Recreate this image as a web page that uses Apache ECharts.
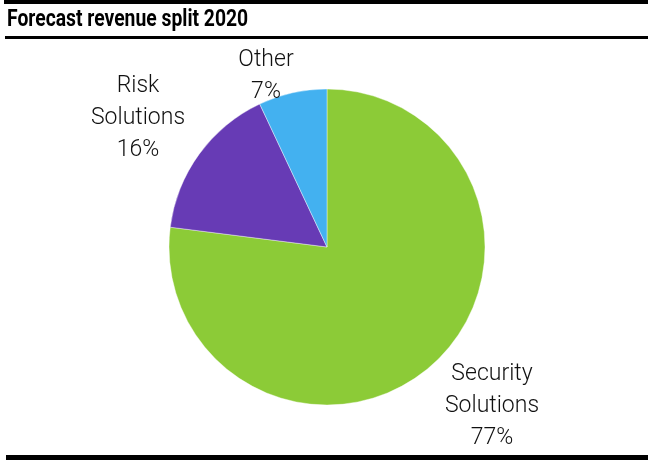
<!DOCTYPE html>
<html>
<head>
<meta charset="utf-8">
<script src="https://cdn.jsdelivr.net/npm/echarts@6/dist/echarts.min.js"></script>
<style>
  html, body { margin: 0; padding: 0; background: #ffffff; }
  #chart { width: 648px; height: 465px; }
</style>
</head>
<body>
<div id="chart"></div>
<script>
// Revenue split by business line, 2020 forecast
const chartTitle = 'Forecast revenue split 2020';
const segments = ['Security\nSolutions', 'Risk\nSolutions', 'Other'];
const shares = [77, 16, 7];
const segmentColors = ['#8CCB37', '#673BB5', '#43B1F0'];

// Where each label's text block is centred
const labelSpots = [[492, 406], [138, 118], [266, 76]];

const chart = echarts.init(document.getElementById('chart'), null, { renderer: 'canvas' });

chart.setOption({
  animation: false,
  backgroundColor: '#ffffff',
  graphic: [
    { type: 'rect', shape: { x: 4, y: 0, width: 644, height: 4 }, style: { fill: '#000' } },
    { type: 'rect', shape: { x: 5, y: 36, width: 643, height: 3 }, style: { fill: '#000' } },
    { type: 'rect', shape: { x: 6, y: 455, width: 642, height: 5 }, style: { fill: '#000' } },
    {
      type: 'text', left: 7, top: 9, scaleX: 0.84,
      style: {
        text: chartTitle,
        font: 'bold 23px Roboto',
        fill: '#000'
      }
    }
  ],
  series: [{
    type: 'pie',
    center: [327, 247],
    radius: [0, 158],
    startAngle: 90,
    clockwise: true,
    silent: true,
    data: segments.map((name, i) => ({
      name: name,
      value: shares[i],
      itemStyle: { color: segmentColors[i] }
    })),
    itemStyle: { borderColor: '#ffffff', borderWidth: 0.4 },
    label: {
      show: true,
      position: 'outside',
      formatter: p => p.name + '\n' + p.value + '%',
      fontFamily: 'Roboto',
      fontWeight: 300,
      fontSize: 23,
      lineHeight: 32,
      color: '#111111',
      align: 'center'
    },
    labelLine: { show: false },
    labelLayout: params => ({
      x: labelSpots[params.dataIndex][0],
      y: labelSpots[params.dataIndex][1],
      align: 'center',
      verticalAlign: 'middle'
    })
  }]
});
</script>
</body>
</html>
